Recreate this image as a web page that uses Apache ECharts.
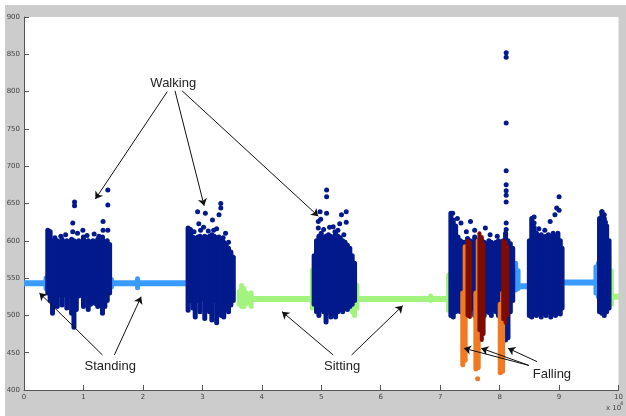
<!DOCTYPE html>
<html>
<head>
<meta charset="utf-8">
<script src="https://cdn.jsdelivr.net/npm/echarts@6/dist/echarts.min.js"></script>
<style>
html, body { margin: 0; padding: 0; background: #fff; }
#wrap { position: relative; width: 626px; height: 416px; }
#frame { position: absolute; left: 5px; top: 5px; right: 0; bottom: 0; background: #cccccc; }
#chart { position: absolute; left: 0; top: 0; width: 626px; height: 416px; }
</style>
</head>
<body>
<div id="wrap"><div id="frame"></div><div id="chart"></div></div>
<script>
// x in units of 10^4 samples, y = sensor magnitude
// columns: [x, low, high]   runs: [xStart, xEnd, y]   points: [x, y]
var walkingCols = [
  [0.40,530,614],[0.44,520,612],[0.48,503,600],[0.52,526,598],[0.56,512,600],[0.60,528,598],
  [0.64,514,602],[0.68,528,598],[0.72,510,600],[0.76,526,598],[0.80,503,602],[0.84,484,600],
  [0.88,508,598],[0.92,526,600],[0.96,528,598],[1.00,512,605],[1.04,528,598],[1.08,508,600],
  [1.12,515,598],[1.16,528,600],[1.20,516,598],[1.24,512,602],[1.28,528,598],[1.32,503,605],
  [1.36,512,598],[1.40,520,600],[1.44,530,595],
  [2.76,507,617],[2.80,520,615],[2.84,510,605],[2.88,498,603],[2.92,520,605],[2.96,505,606],
  [3.00,522,604],[3.04,496,606],[3.08,520,604],[3.12,505,606],[3.16,494,608],[3.20,520,606],
  [3.24,490,604],[3.28,512,605],[3.32,500,600],[3.36,498,598],[3.40,515,594],[3.44,505,590],
  [3.48,514,585],[3.52,520,578],
  [4.88,515,580],[4.92,505,600],[4.96,500,606],[5.00,508,610],[5.04,505,604],[5.08,491,606],
  [5.12,505,608],[5.16,498,606],[5.20,506,604],[5.24,498,610],[5.28,505,606],[5.32,508,604],
  [5.36,505,600],[5.40,510,598],[5.44,508,594],[5.48,512,590],[5.52,515,580],[5.56,520,570],
  [7.18,500,637],[7.22,498,628],[7.26,505,620],[7.30,508,605],[7.34,505,600],[7.38,510,598],
  [7.42,505,598],[7.46,500,603],[7.50,505,600],[7.54,510,598],[7.58,500,605],[7.62,506,600],
  [7.66,510,598],[7.70,505,600],[7.74,500,598],[7.78,506,596],[7.82,504,600],[7.86,500,598],
  [7.90,508,596],[7.94,505,598],[7.98,500,600],[8.02,505,598],[8.06,480,600],[8.10,467,610],
  [8.14,470,600],[8.18,505,596],[8.22,520,590],
  [8.50,500,600],[8.54,498,630],[8.58,502,618],[8.62,500,610],[8.66,505,606],[8.70,498,608],
  [8.74,503,605],[8.78,500,606],[8.82,505,608],[8.86,498,605],[8.90,503,610],[8.94,500,606],
  [8.98,505,610],[9.02,502,600],[9.05,510,590],
  [9.68,505,630],[9.72,503,639],[9.76,500,630],[9.80,505,620],[9.84,510,600]
];
var walkingPts = [
  [0.85,652],[0.85,647],[0.82,624],[0.82,612],[0.99,614],[1.33,626],[1.33,614],[1.41,668],[1.41,648],[1.41,614],[0.43,612],
  [0.62,606],[0.70,608],[0.90,610],[1.06,607],[1.18,609],[1.26,606],[0.52,604],
  [2.92,639],[3.05,637],[3.31,650],[3.31,644],[3.28,635],[3.17,628],[2.94,623],[2.97,614],[3.19,614],[3.39,610],
  [2.86,612],[3.02,618],[3.10,613],[3.24,616],[3.35,604],[3.44,598],
  [5.09,668],[5.09,659],[4.98,639],[5.09,637],[5.34,635],[5.42,639],[5.42,625],[4.95,626],[5.20,619],[5.31,623],
  [4.99,629],[5.23,612],[4.95,617],[5.04,615],[5.14,618],[5.28,614],[5.38,608],
  [7.21,637],[7.29,630],[7.35,624],[7.51,626],[7.76,617],[8.11,852],[8.11,846],[8.11,758],[8.11,694],[8.11,675],
  [8.11,667],[8.11,661],[8.11,652],[8.11,624],[8.11,615],[7.44,612],[7.58,614],[7.84,608],[7.96,606],
  [8.96,644],[8.93,635],[8.85,626],[9.00,659],[9.00,641],[8.58,632],[8.58,624],[8.66,616],[8.76,614],
  [9.72,639],[9.76,635],[9.78,625]
];
var standingRuns = [[0.00,0.40,543],[1.46,2.74,543],[8.24,8.50,539],[9.05,9.67,544]];
var standingCols = [
  [0.37,536,550],[0.41,534,552],[1.47,538,548],[1.91,537,549],
  [8.27,534,570],[8.31,536,560],[9.62,530,565],[9.66,525,570]
];
var sittingRuns = [[3.86,4.85,522],[5.64,7.16,522],[9.90,10.00,525]];
var sittingCols = [
  [3.62,515,532],[3.66,512,540],[3.70,512,536],[3.74,516,530],[3.78,518,526],[3.82,512,530],
  [4.85,510,561],[4.89,512,556],[5.52,505,561],[5.56,500,556],[5.60,510,540],[6.84,520,526],
  [7.14,507,554],[9.84,511,578],[9.88,515,560]
];
var fallOrangeCols = [
  [7.38,434,530],[7.42,440,592],[7.60,428,530],[7.64,430,600],[8.01,423,515],[8.05,425,530]
];
var fallOrangePts = [[7.63,415]];
var fallRedCols = [
  [7.46,500,600],[7.50,498,598],[7.66,480,610],[7.70,467,605],[7.73,475,595],
  [8.06,495,600],[8.10,490,598],[8.13,500,592]
];

// annotations (data coords)
var labels = [
  { name: "Walking", coord: [2.51, 811] },
  { name: "Standing", coord: [1.45, 432] },
  { name: "Sitting", coord: [5.35, 432] },
  { name: "Falling", coord: [8.88, 421] }
];
var arrows = [
  [2.41,800,1.20,656],[2.54,801,3.03,647],[2.66,801,4.95,633],
  [1.32,447,0.26,530],[1.52,447,1.97,525],
  [5.20,447,4.34,505],[5.51,447,6.37,513],
  [8.49,433,7.40,456],[8.49,433,7.69,456],[8.63,438,8.14,456]
];

var C_WALK = "#021a8c", C_STAND = "#3a9bff", C_SIT = "#a3f47e",
    C_ORANGE = "#f07a22", C_RED = "#7d0c02";

function colSeries (data, color, width) {
  return {
    type: "custom",
    clip: true,
    encode: { x: 0, y: [1, 2] },
    data: data,
    renderItem: function (params, api) {
      var a = api.coord([api.value(0), api.value(1)]);
      var b = api.coord([api.value(0), api.value(2)]);
      return {
        type: "line",
        shape: { x1: a[0], y1: a[1], x2: b[0], y2: b[1] },
        style: { stroke: color, lineWidth: width, lineCap: "round" }
      };
    }
  };
}
function runSeries (data, color, width) {
  return {
    type: "custom",
    clip: true,
    encode: { x: [0, 1], y: 2 },
    data: data,
    renderItem: function (params, api) {
      var a = api.coord([api.value(0), api.value(2)]);
      var b = api.coord([api.value(1), api.value(2)]);
      return {
        type: "line",
        shape: { x1: a[0], y1: a[1], x2: b[0], y2: b[1] },
        style: { stroke: color, lineWidth: width, lineCap: "round" }
      };
    }
  };
}

var myChart = echarts.init(document.getElementById("chart"));
var axisFont = { fontSize: 7, color: "#444", fontFamily: "DejaVu Sans" };

var option = {
  animation: false,
  backgroundColor: "transparent",
  grid: { left: 24, top: 17, right: 4, bottom: 26, show: true, backgroundColor: "#fff", borderWidth: 0 },
  xAxis: {
    type: "value", min: 0, max: 10, interval: 1,
    axisLine: { show: true, lineStyle: { color: "#555" } },
    axisTick: { show: true, inside: true, length: 5, lineStyle: { color: "#555" } },
    axisLabel: Object.assign({ margin: 4 }, axisFont),
    splitLine: { show: false }
  },
  yAxis: {
    type: "value", min: 400, max: 900, interval: 50,
    axisLine: { show: true, lineStyle: { color: "#555" } },
    axisTick: { show: true, inside: true, length: 5, lineStyle: { color: "#555" } },
    axisLabel: Object.assign({ margin: 4 }, axisFont),
    splitLine: { show: false }
  },
  graphic: [
    { type: "text", left: 606, top: 405, style: { text: "x 10", fontSize: 7, fill: "#444", fontFamily: "DejaVu Sans" } },
    { type: "text", left: 620, top: 401, style: { text: "4", fontSize: 5, fill: "#444", fontFamily: "DejaVu Sans" } }
  ],
  series: [
    runSeries(standingRuns, C_STAND, 6),
    colSeries(standingCols, C_STAND, 5),
    runSeries(sittingRuns, C_SIT, 6),
    colSeries(sittingCols, C_SIT, 5),
    colSeries(walkingCols, C_WALK, 5),
    colSeries(fallOrangeCols, C_ORANGE, 5),
    colSeries(fallRedCols, C_RED, 4),
    {
      type: "scatter",
      data: fallOrangePts,
      symbolSize: 5,
      itemStyle: { color: C_ORANGE, opacity: 1 }
    },
    {
      type: "scatter",
      data: walkingPts,
      symbolSize: 5,
      itemStyle: { color: C_WALK, opacity: 1 },
      markLine: {
        silent: true,
        symbol: ["none", "arrow"],
        symbolSize: 7,
        lineStyle: { color: "#111", width: 1, type: "solid" },
        label: { show: false },
        data: arrows.map(function (a) {
          return [{ coord: [a[0], a[1]] }, { coord: [a[2], a[3]] }];
        })
      },
      markPoint: {
        silent: true,
        symbol: "circle",
        symbolSize: 1,
        itemStyle: { color: "rgba(0,0,0,0)" },
        label: {
          show: true, position: "inside", formatter: "{b}",
          fontSize: 13, color: "#222", fontFamily: "Liberation Sans"
        },
        data: labels
      }
    }
  ]
};
myChart.setOption(option);
</script>
</body>
</html>
